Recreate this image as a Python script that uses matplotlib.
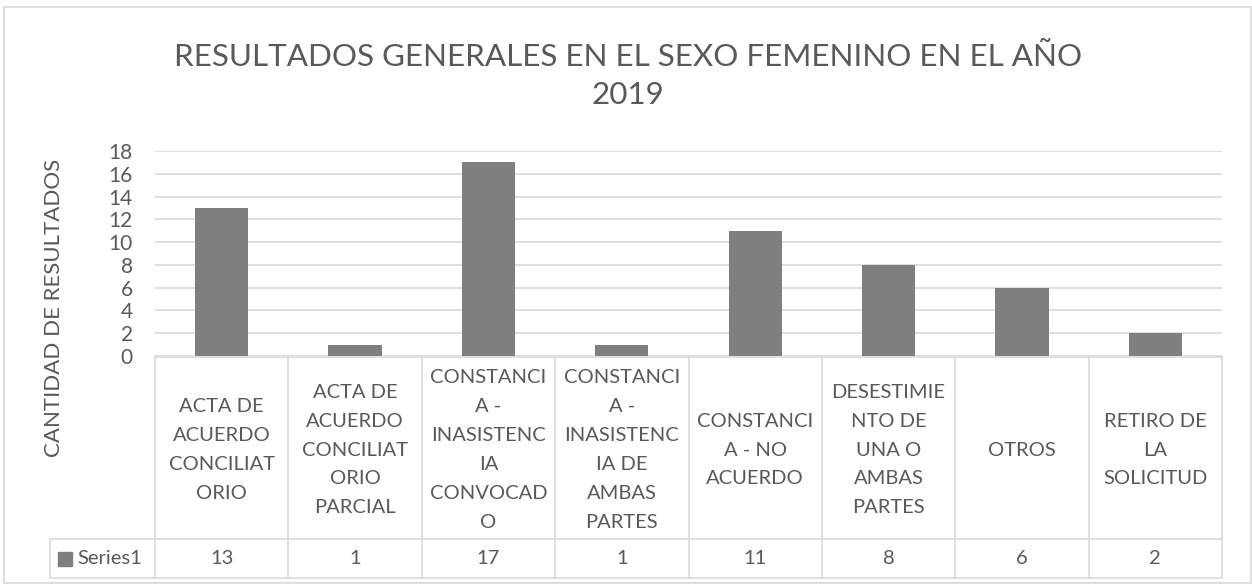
import matplotlib
matplotlib.use("Agg")
import matplotlib.pyplot as plt
from matplotlib.patches import Rectangle
from matplotlib.transforms import blended_transform_factory

# data
categories = [
    "ACTA DE\nACUERDO\nCONCILIAT\nORIO",
    "ACTA DE\nACUERDO\nCONCILIAT\nORIO\nPARCIAL",
    "CONSTANCI\nA -\nINASISTENC\nIA\nCONVOCAD\nO",
    "CONSTANCI\nA -\nINASISTENC\nIA DE\nAMBAS\nPARTES",
    "CONSTANCI\nA - NO\nACUERDO",
    "DESESTIMIE\nNTO DE\nUNA O\nAMBAS\nPARTES",
    "OTROS",
    "RETIRO DE\nLA\nSOLICITUD",
]
values = [13, 1, 17, 1, 11, 8, 6, 2]
series_name = "Series1"
yticks = list(range(0, 19, 2))

title = "RESULTADOS GENERALES EN EL SEXO FEMENINO EN EL AÑO\n2019"
ylabel = "CANTIDAD DE RESULTADOS"

plt.rcParams['font.family'] = ['Lato', 'DejaVu Sans']
TXT = '#595959'
GRID = '#D9D9D9'
BAR = '#7F7F7F'
FS = 14.5

W, H = 1252, 588
fig = plt.figure(figsize=(W / 100, H / 100), dpi=100)

# chart border
fig.patches.append(Rectangle((4 / W, 1 - 583 / H), 1247 / W, 576 / H,
                             transform=fig.transFigure, fill=False,
                             edgecolor=GRID, lw=1.2))

# plot area in pixel coords
x0, x1 = 155, 1222
ytop, ybot = 151, 356
ax = fig.add_axes([x0 / W, 1 - ybot / H, (x1 - x0) / W, (ybot - ytop) / H])

n = len(values)
ax.bar(range(n), values, width=0.4, color=BAR, zorder=3)
ax.set_xlim(-0.5, n - 0.5)
ax.set_ylim(0, 18)
ax.set_yticks(yticks)
ax.tick_params(axis='y', length=0, labelsize=15, colors=TXT, pad=16)
ax.set_xticks([])
ax.grid(axis='y', color=GRID, lw=1.2, zorder=0)
for s in ax.spines.values():
    s.set_visible(False)

fig.text(54 / W, 1 - 308 / H, ylabel, rotation=90, ha='center', va='center',
         fontsize=16, color=TXT)
fig.text(628 / W, 1 - 76 / H, title, ha='center', va='center',
         fontsize=22.6, color=TXT, linespacing=1.45)

# data table under the axis
ph = ybot - ytop
def ay(py):
    return (ybot - py) / ph

tr = blended_transform_factory(ax.transData, ax.transAxes)
y_tab, y_mid, y_end = ay(357), ay(539), ay(578)
lkw = dict(color=GRID, lw=1.2, clip_on=False)
for i in range(n + 1):
    ax.plot([i - 0.5, i - 0.5], [y_tab, y_end], transform=tr, **lkw)
for yy in (y_tab, y_mid, y_end):
    ax.plot([-0.5, n - 0.5], [yy, yy], transform=tr, **lkw)

# header cell for the series row
to_px = blended_transform_factory(fig.transFigure, ax.transAxes)
xl = 50 / W
ax.plot([xl, xl], [y_mid, y_end], transform=to_px, **lkw)
ax.plot([xl, x0 / W], [y_mid, y_mid], transform=to_px, **lkw)
ax.plot([xl, x0 / W], [y_end, y_end], transform=to_px, **lkw)
ym = (y_mid + y_end) / 2
fig.patches.append(Rectangle((58 / W, 1 - 566 / H), 14 / W, 14 / H,
                             transform=fig.transFigure, color=BAR))
ax.text(77 / W, ym, series_name, transform=to_px, ha='left', va='center',
        fontsize=FS, color=TXT)

for i, (c, v) in enumerate(zip(categories, values)):
    ax.text(i, (y_tab + y_mid) / 2 - 0.01, c, transform=tr, ha='center', va='center',
            fontsize=FS, color=TXT, linespacing=1.85, multialignment='center')
    ax.text(i, ym, str(v), transform=tr, ha='center', va='center',
            fontsize=FS, color=TXT)

fig.savefig("out.png", dpi=100)
